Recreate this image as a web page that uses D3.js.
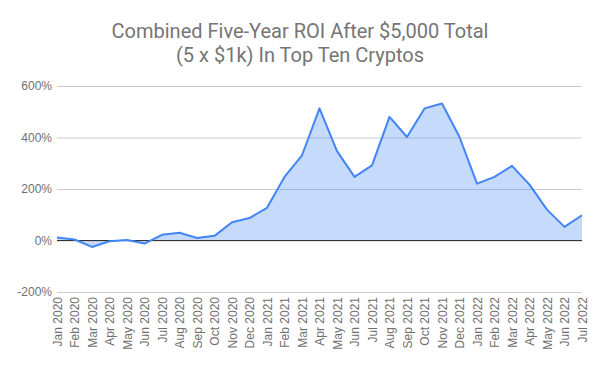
<!DOCTYPE html>
<html>
<head>
<meta charset="utf-8">
<script src="https://cdn.jsdelivr.net/npm/d3@7"></script>
<style>
  body { margin: 0; background: #fff; }
  svg { display: block; font-family: Roboto, Arial, sans-serif; }
</style>
</head>
<body>
<div id="chart"></div>
<script>
// month labels and combined ROI (%)
var months = ["Jan 2020","Feb 2020","Mar 2020","Apr 2020","May 2020","Jun 2020","Jul 2020","Aug 2020",
  "Sep 2020","Oct 2020","Nov 2020","Dec 2020","Jan 2021","Feb 2021","Mar 2021","Apr 2021","May 2021",
  "Jun 2021","Jul 2021","Aug 2021","Sep 2021","Oct 2021","Nov 2021","Dec 2021","Jan 2022","Feb 2022",
  "Mar 2022","Apr 2022","May 2022","Jun 2022","Jul 2022"];
var roi = [12, 4, -25, -3, 2, -12, 22, 30, 10, 18, 71, 87, 127, 247, 331, 513, 347, 247, 292, 480,
  402, 513, 532, 402, 221, 247, 290, 217, 120, 53, 98];
var yTicks = [-200, 0, 200, 400, 600];
var titleLines = ["Combined Five-Year ROI After $5,000 Total", "(5 x $1k) In Top Ten Cryptos"];

var W = 600, H = 371;
var margin = {top: 86, right: 18, bottom: 79, left: 57};
var width = W - margin.left - margin.right,
    height = H - margin.top - margin.bottom;

var svg = d3.select("#chart").append("svg")
    .attr("width", W)
    .attr("height", H);

svg.append("text")
    .attr("x", W / 2)
    .attr("y", 38)
    .attr("text-anchor", "middle")
    .style("font-size", "20px")
    .style("fill", "#757575")
  .selectAll("tspan")
  .data(titleLines)
  .join("tspan")
    .attr("x", W / 2)
    .attr("dy", function(d, i) { return i ? 24 : 0; })
    .text(function(d) { return d; });

var g = svg.append("g")
    .attr("transform", "translate(" + margin.left + "," + margin.top + ")");

var x = d3.scalePoint()
    .domain(months)
    .range([0, width]);

var y = d3.scaleLinear()
    .domain([-200, 600])
    .range([height, 0]);

// gridlines + y labels
var yAxis = d3.axisLeft(y)
    .tickValues(yTicks)
    .tickSize(-width)
    .tickPadding(5)
    .tickFormat(function(d) { return d + "%"; });

var ya = g.append("g").call(yAxis);
ya.select(".domain").remove();
ya.selectAll("line").attr("stroke", "#cccccc");
ya.selectAll("text")
    .style("font-size", "12px")
    .style("fill", "#6f6f6f");

var area = d3.area()
    .x(function(d, i) { return x(months[i]); })
    .y0(y(0))
    .y1(function(d) { return y(d); });

var line = d3.line()
    .x(function(d, i) { return x(months[i]); })
    .y(function(d) { return y(d); });

g.append("path")
    .datum(roi)
    .attr("d", area)
    .attr("fill", "#4285f4")
    .attr("fill-opacity", 0.3);

// zero baseline
g.append("line")
    .attr("x1", 0)
    .attr("x2", width)
    .attr("y1", y(0))
    .attr("y2", y(0))
    .attr("stroke", "#333333")
    .attr("stroke-width", 1);

g.append("path")
    .datum(roi)
    .attr("d", line)
    .attr("fill", "none")
    .attr("stroke", "#4285f4")
    .attr("stroke-width", 2)
    .attr("stroke-linejoin", "round");

// x labels, rotated
var xAxis = d3.axisBottom(x).tickSize(0).tickPadding(0);
var xa = g.append("g")
    .attr("transform", "translate(0," + height + ")")
    .call(xAxis);
xa.select(".domain").remove();
xa.selectAll("text")
    .style("font-size", "12px")
    .style("fill", "#6f6f6f")
    .attr("text-anchor", "end")
    .attr("dy", "0.35em")
    .attr("transform", "translate(0,5) rotate(-90)")
    .attr("x", 0)
    .attr("y", 0);
</script>
</body>
</html>
